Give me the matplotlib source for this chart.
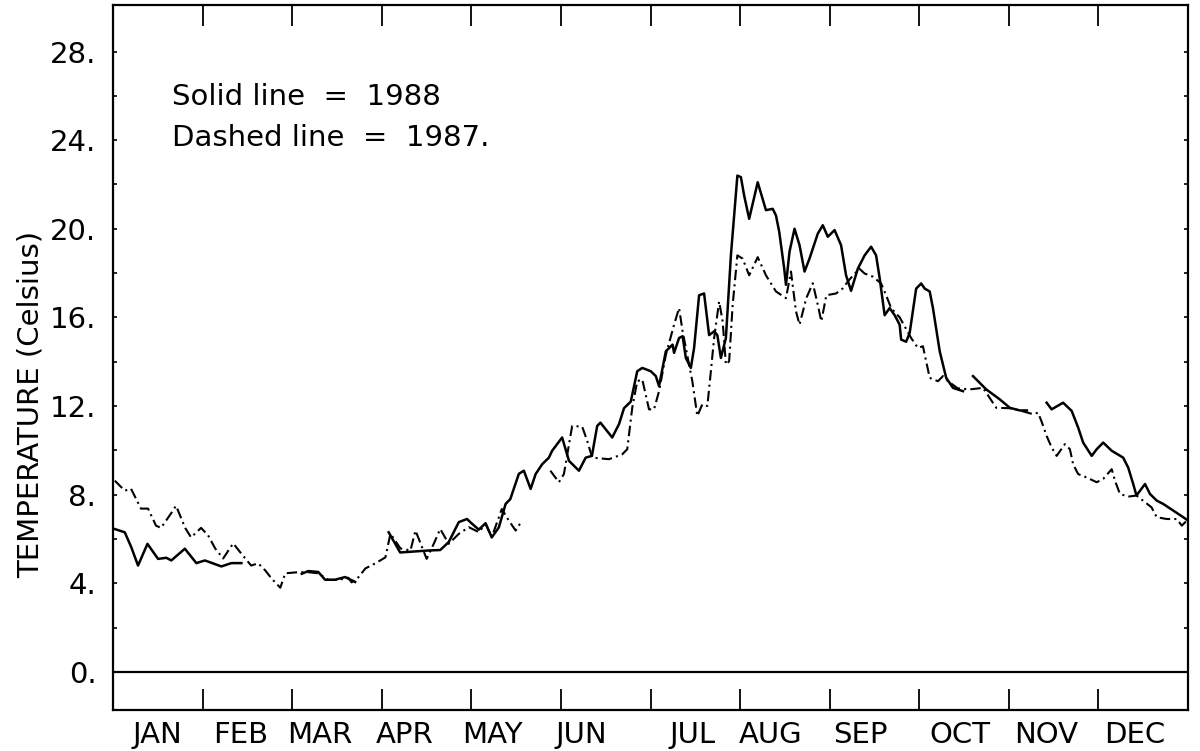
import numpy as np
import matplotlib
matplotlib.use("Agg")
import matplotlib.pyplot as plt

# Daily water temperature, day of year (0-365) and degrees Celsius
# NaN marks a gap in the record
days_1988 = [0.3, 4.0, 6.2, 8.5, 11.7, 15.3, 18.1, 19.8, 24.4, 28.3, 31.2, 36.8, 40.2, 43.6,
             50.0,
             64.1, 66.3, 69.7, 72.0, 75.4, 78.8, 82.2,
             88.0,
             93.6, 97.5, 107.2, 111.1, 114.0, 117.4, 120.2, 121.8, 124.2, 126.5, 128.6, 131.0,
             133.3, 134.9, 137.8, 139.5, 141.8, 143.5, 145.7, 148.0, 149.1, 152.5, 154.8, 158.2,
             160.5, 162.6, 164.4, 165.5, 169.5, 171.8, 173.5, 175.8, 178.0, 179.7, 182.6, 184.3,
             185.4, 187.7, 190.0, 190.5, 192.2, 193.4, 194.5, 196.2, 197.3, 199.0, 200.7, 202.4,
             204.1, 205.2, 206.4, 208.1, 209.8, 212.0, 213.2, 214.3, 216.0, 218.9, 221.7, 224.0,
             225.1, 226.2, 227.9, 228.5, 229.7, 231.4, 233.1, 234.8, 236.5, 239.3, 241.0, 242.7,
             245.0, 247.2, 248.9, 250.6, 252.9, 255.2, 257.4, 259.1, 260.3, 262.0, 263.7, 265.4,
             267.1, 267.6, 269.3, 270.5, 272.7, 274.4, 275.6, 277.3, 278.4, 280.7, 282.9, 285.2,
             288.6,
             290.5,
             292.0, 296.5, 301.1, 304.5, 307.9, 310.3,
             313.5,
             317.0, 318.7, 322.6, 325.5, 327.7, 329.4, 332.3, 334.0, 336.2, 339.1, 343.0, 344.7,
             346.4, 347.5, 350.4, 352.1, 354.4, 356.6, 360.0, 363.4, 365.0]
temp_1988 = [6.46, 6.3, 5.63, 4.8, 5.78, 5.1, 5.15, 5.03, 5.56, 4.91, 5.03, 4.76, 4.91, 4.91,
             np.nan,
             4.43, 4.55, 4.51, 4.16, 4.16, 4.28, 4.06,
             np.nan,
             6.3, 5.39, 5.48, 5.5, 5.86, 6.76, 6.9, 6.7, 6.42, 6.71, 6.07, 6.52,
             7.58, 7.8, 8.94, 9.08, 8.26, 8.93, 9.37, 9.67, 9.98, 10.58, 9.53, 9.08,
             9.67, 9.75, 11.1, 11.25, 10.58, 11.18, 11.9, 12.2, 13.57, 13.72, 13.57, 13.35,
             12.9, 14.47, 14.77, 14.4, 15.07, 15.15, 14.17, 13.72, 14.62, 17.0, 17.08, 15.2,
             15.37, 15.2, 14.17, 15.07, 18.8, 22.4, 22.33, 21.5, 20.45, 22.1, 20.84, 20.9,
             20.6, 19.87, 18.2, 17.47, 18.97, 20.0, 19.26, 18.07, 18.66, 19.78, 20.16, 19.64,
             19.94, 19.26, 17.9, 17.2, 18.2, 18.8, 19.19, 18.8, 17.78, 16.1, 16.42, 16.1,
             15.67, 15.0, 14.9, 15.3, 17.3, 17.53, 17.3, 17.17, 16.42, 14.47, 13.27, 12.82,
             12.67,
             np.nan,
             13.35, 12.75, 12.3, 11.92, 11.8, 11.8,
             np.nan,
             12.15, 11.85, 12.15, 11.78, 11.03, 10.35, 9.75, 10.05, 10.35, 9.98, 9.67, 9.22,
             8.48, 7.96, 8.48, 8.03, 7.73, 7.58, 7.28, 6.98, 6.83]

days_1987 = [0.6, 4.0, 6.1, 9.5, 11.9, 14.6, 16.3, 19.7, 21.4, 24.5, 26.5, 29.9, 32.3, 34.7,
             37.4, 40.8, 43.5, 46.9, 49.3, 51.7, 53.8, 56.8, 58.5, 62.9, 66.3, 69.7, 73.1,
             76.5, 79.9, 81.0, 83.3, 85.7, 89.1, 92.5, 94.2, 97.6, 101.0, 102.7, 106.5, 108.9,
             111.1, 114.0, 117.4, 120.8, 124.2, 126.5, 128.6, 132.0, 134.4, 136.7, 138.9,
             143.0,
             148.5, 151.4, 153.1, 155.9, 159.3, 161.0, 162.7, 168.4, 172.9, 174.6, 176.3, 178.0,
             179.7, 182.0, 183.7, 185.4, 187.7, 190.5, 192.2, 193.4, 196.7, 198.4, 200.1, 201.8,
             203.0, 204.1, 205.8, 207.0, 208.1, 209.2, 210.4, 212.0, 213.8, 216.0, 218.9, 221.7,
             225.1, 228.5, 230.2, 231.9, 233.1, 235.4, 237.6, 239.3, 240.5, 242.2, 245.5, 247.7,
             250.0, 253.4, 255.2, 258.0, 260.8, 262.5, 264.2, 267.1, 271.0, 273.3, 275.0, 276.1,
             277.3, 280.1, 281.8, 283.5, 286.8, 290.9, 295.4, 299.9, 304.5, 307.9, 312.4, 314.1,
             315.2, 317.0, 318.7, 320.4, 323.2, 324.9, 326.0, 327.7, 330.5, 334.0, 336.2, 339.1,
             340.2, 341.9, 344.7, 347.5, 352.6, 354.4, 357.8, 361.2, 362.9, 364.6]
temp_1987 = [8.63, 8.18, 8.27, 7.37, 7.37, 6.6, 6.5, 7.15, 7.5, 6.5, 6.07, 6.5, 6.16, 5.57,
             5.12, 5.8, 5.35, 4.8, 4.9, 4.58, 4.22, 3.8, 4.45, 4.5, 4.5, 4.45, 4.15,
             4.15, 4.25, 4.04, 4.27, 4.67, 4.9, 5.17, 6.24, 5.57, 5.48, 6.38, 5.1, 5.78,
             6.45, 5.78, 6.23, 6.53, 6.31, 6.68, 6.08, 7.35, 6.83, 6.38, 6.83,
             np.nan,
             9.08, 8.56, 8.93, 11.1, 11.07, 10.43, 9.67, 9.6, 9.82, 10.05, 11.92, 13.12,
             13.2, 11.85, 11.85, 12.67, 14.3, 15.67, 16.42, 15.37, 13.12, 11.55, 12.08, 12.0,
             13.57, 15.07, 16.72, 15.82, 13.87, 14.02, 16.57, 18.8, 18.65, 17.9, 18.72, 17.9,
             17.17, 16.87, 18.07, 16.27, 15.67, 16.87, 17.54, 16.57, 15.82, 17.0, 17.08, 17.3,
             17.7, 18.2, 17.98, 17.84, 17.53, 17.0, 16.42, 16.0, 15.07, 14.62, 14.7, 14.02,
             13.27, 13.12, 13.35, 13.12, 12.8, 12.75, 12.82, 11.92, 11.9, 11.8, 11.63, 11.7,
             11.33, 10.65, 10.13, 9.75, 10.28, 10.05, 9.37, 8.93, 8.78, 8.56, 8.71, 9.15,
             8.63, 8.03, 7.91, 7.96, 7.43, 6.98, 6.9, 6.9, 6.6, 6.83]

months = ["JAN", "FEB", "MAR", "APR", "MAY", "JUN", "JUL", "AUG", "SEP", "OCT", "NOV", "DEC"]
# where each month name sits, in month units from the start of the year
month_label_pos = [0.49, 1.42, 2.31, 3.26, 4.24, 5.23, 6.47, 7.34, 8.34, 9.45, 10.42, 11.41]
y_ticks = [0, 4, 8, 12, 16, 20, 24, 28]

plt.rcParams['font.family'] = ['DejaVu Sans']
fs = 21

fig = plt.figure(figsize=(12, 7.51), dpi=100)
ax = fig.add_axes([113 / 1200, 41 / 751, 1075 / 1200, 705 / 751])

ax.plot(days_1988, temp_1988, color='black', lw=1.8, solid_joinstyle='round')
ax.plot(days_1987, temp_1987, color='black', lw=1.5, linestyle=(0, (5, 2, 1, 2)))
ax.axhline(0, color='black', lw=1.6)

ax.set_xlim(0, 365)
ax.set_ylim(-1.72, 30.1)

# month boundaries as ticks on top and bottom, names in between
month_len = 365 / 12
ax.set_xticks([month_len * k for k in range(1, 12)])
ax.set_xticklabels([])
ax.set_xticks([month_len * p for p in month_label_pos], minor=True)
ax.set_xticklabels(months, minor=True, fontsize=fs)
ax.tick_params(axis='x', which='major', direction='in', length=15, width=1.3,
               top=True, bottom=True)
ax.tick_params(axis='x', which='minor', length=0, pad=8)

ax.set_yticks(y_ticks)
ax.set_yticklabels([f"{v}." for v in y_ticks], fontsize=fs)
ax.set_yticks(np.arange(2, 30, 4), minor=True)
ax.tick_params(axis='y', which='both', direction='in', length=3, width=1.2,
               left=True, right=True, pad=12)

for s in ax.spines.values():
    s.set_linewidth(1.6)

ax.set_ylabel("TEMPERATURE (Celsius)", fontsize=fs)
ax.yaxis.set_label_coords(-0.064, 0.433)

ax.text(20, 25.95, "Solid line  =  1988", fontsize=fs, va='center')
ax.text(20, 24.1, "Dashed line  =  1987.", fontsize=fs, va='center')

fig.savefig("out.png", dpi=100)
